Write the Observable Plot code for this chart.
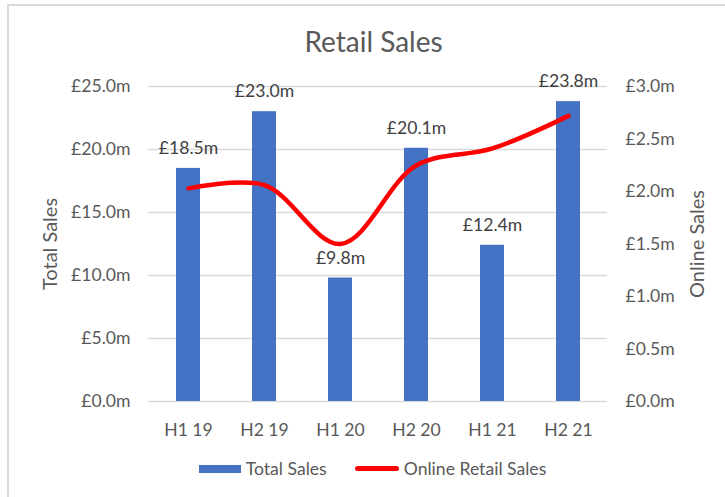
<!DOCTYPE html>
<html>
<head>
<meta charset="utf-8">
<script src="https://cdn.jsdelivr.net/npm/d3@7"></script>
<script src="https://cdn.jsdelivr.net/npm/@observablehq/plot@0.6"></script>
<style>
  html, body { margin: 0; padding: 0; background: #fff; }
  #chart { position: relative; width: 725px; height: 497px; overflow: hidden; font-family: Lato, sans-serif; }
  #border { position: absolute; left: 7px; top: 4px; right: -10px; bottom: -10px; border-left: 2px solid #d9d9d9; border-top: 2px solid #d9d9d9; pointer-events: none; }
  #title { height: 70px; box-sizing: border-box; padding-top: 26px; padding-left: 22px; text-align: center; font-size: 28px; line-height: 30px; color: #595959; }
  #plot svg { display: block; }
  #legend { height: 57px; display: flex; align-items: center; justify-content: center; padding-left: 20px; box-sizing: border-box; font-size: 17.6px; color: #595959; }
  .sw { display: inline-block; margin-right: 5px; }
  .item { display: flex; align-items: center; }
</style>
</head>
<body>
<div id="chart">
  <div id="border"></div>
  <div id="title">Retail Sales</div>
  <div id="plot"></div>
  <div id="legend">
    <div class="item"><span class="sw" style="width:42px;height:8px;background:#4472C4"></span><span>Total Sales</span></div>
    <div class="item" style="margin-left:28px"><span class="sw" style="width:44px;height:5px;background:#FF0000;border-radius:3px"></span><span>Online Retail Sales</span></div>
  </div>
</div>
<script>
const categories = ["H1 19", "H2 19", "H1 20", "H2 20", "H1 21", "H2 21"];
const totalSales = [18.5, 23.0, 9.8, 20.1, 12.4, 23.8];
const onlineSales = [2.03, 2.06, 1.50, 2.25, 2.41, 2.72];
const leftTicks = [0, 5, 10, 15, 20, 25];
const rightTicks = [0, 0.5, 1.0, 1.5, 2.0, 2.5, 3.0];

const ratio = 25 / 3; // right axis max 3.0 maps to left axis max 25.0
const data = categories.map((c, i) => ({cat: c, total: totalSales[i], online: onlineSales[i]}));

const chart = Plot.plot({
  width: 725,
  height: 370,
  marginTop: 16,
  marginBottom: 39,
  marginLeft: 148,
  marginRight: 118,
  style: {fontFamily: "Lato, sans-serif", background: "transparent"},
  x: {domain: categories, paddingInner: 0.686, paddingOuter: 0.343, label: null},
  y: {domain: [0, 25], label: null},
  marks: [
    Plot.ruleY(leftTicks, {stroke: "#d9d9d9", strokeWidth: 1.3}),
    Plot.barY(data, {x: "cat", y: "total", fill: "#4472C4"}),
    Plot.line(data, {x: "cat", y: d => d.online * ratio, curve: "catmull-rom", stroke: "#FF0000", strokeWidth: 4.5, strokeLinecap: "round", strokeLinejoin: "round"}),
    Plot.text(data, {x: "cat", y: "total", text: d => "£" + d.total.toFixed(1) + "m", dy: -20, fontSize: 17.6, fill: "#404040"}),
    Plot.axisX({tickSize: 0, tickPadding: 22, fontSize: 17.6, color: "#595959", label: null}),
    Plot.axisY({anchor: "left", ticks: leftTicks, tickSize: 0, tickPadding: 18, fontSize: 17.6, color: "#595959",
      tickFormat: d => "£" + d.toFixed(1) + "m", label: null}),
    Plot.axisY({anchor: "right", ticks: rightTicks.map(v => v * ratio), tickSize: 0, tickPadding: 18, fontSize: 17.6, color: "#595959",
      tickFormat: d => "£" + (d / ratio).toFixed(1) + "m", label: null}),
    Plot.text(["Total Sales"], {frameAnchor: "left", textAnchor: "middle", dx: -98, rotate: -90, fontSize: 20, fill: "#595959"}),
    Plot.text(["Online Sales"], {frameAnchor: "right", textAnchor: "middle", dx: 90, rotate: -90, fontSize: 20, fill: "#595959"})
  ]
});
document.getElementById("plot").appendChild(chart);
</script>
</body>
</html>
